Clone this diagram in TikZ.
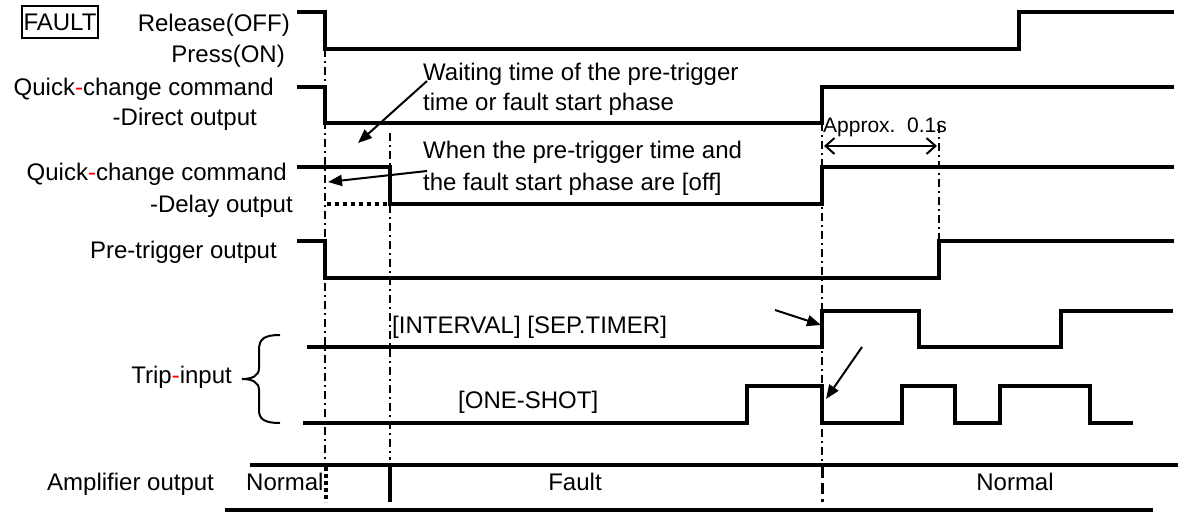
\documentclass[tikz,border=0pt]{standalone}
\usepackage{fontspec}
\setmainfont{Liberation Sans}
\usetikzlibrary{arrows.meta}
\begin{document}
\begin{tikzpicture}[x=1pt,y=-1pt,
  txt/.style={inner sep=0pt, font=\fontsize{24}{30}\selectfont},
  small/.style={inner sep=0pt, font=\fontsize{21}{26}\selectfont},
  wave/.style={line width=4pt, line join=miter},
  guide/.style={line width=1.6pt, dash pattern=on 8pt off 4pt on 2pt off 4pt},
  ptr/.style={line width=2pt, -{Triangle[length=14pt,width=11pt]}},
  hyph/.style={},
]
\useasboundingbox (0,0) rectangle (1181,512);

% ---- labels ----
\node[txt, draw, line width=1.5pt, minimum width=76pt, minimum height=32pt] (fault) at (60,22) {FAULT};
\node[txt, anchor=base east] (rel) at (290,31) {Release(OFF)};
\node[txt, anchor=base east] (press) at (285,62) {Press(ON)};
\node[txt, anchor=base east] (qc1) at (274,95) {Quick\textcolor{red}{-}change command};
\node[txt, anchor=base east] (dir) at (257,125) {-Direct output};
\node[txt, anchor=base east] (qc2) at (287,180) {Quick\textcolor{red}{-}change command};
\node[txt, anchor=base east] (del) at (293,212) {-Delay output};
\node[txt, anchor=base east] (pre) at (277,258) {Pre-trigger output};
\node[txt, anchor=base east] (trip) at (232,383) {Trip\textcolor{red}{-}input};
\node[txt, anchor=base west] (amp) at (47,490) {Amplifier output};
\node[txt, anchor=base west] (norm1) at (246,490) {Normal};
\node[txt, anchor=base] (flt) at (575,490) {Fault};
\node[txt, anchor=base] (norm2) at (1015,490) {Normal};
\node[txt, anchor=base west] (intv) at (392,333) {[INTERVAL] [SEP.TIMER]};
\node[txt, anchor=base west] (oneshot) at (458,408) {[ONE-SHOT]};
\node[small, anchor=base west] (approx) at (823,132) {Approx.\ \ 0.1s};
\node[txt, anchor=base west] (wait1) at (423,80) {Waiting time of the pre-trigger};
\node[txt, anchor=base west] (wait2) at (423,110) {time or fault start phase};
\node[txt, anchor=base west] (when1) at (423,158) {When the pre-trigger time and};
\node[txt, anchor=base west] (when2) at (423,190) {the fault start phase are [off]};

% ---- guides ----
\draw[guide] (325,49) -- (325,465);
\draw[guide] (390,133) -- (390,460);
\draw[guide] (822,123) -- (822,465);
\draw[guide] (939,125) -- (939,241);

% ---- waveforms ----
\draw[wave] (297,12) -- (325,12) -- (325,49) -- (1019,49) -- (1019,12) -- (1174,12);
\draw[wave] (297,87) -- (325,87) -- (325,123) -- (822,123) -- (822,87) -- (1174,87);
\draw[wave] (297,167) -- (390,167) -- (390,204) -- (822,204) -- (822,167) -- (1174,167);
\draw[line width=4pt, dash pattern=on 4pt off 4pt] (327,204) -- (390,204);
\draw[wave] (297,241) -- (325,241) -- (325,278) -- (939,278) -- (939,241) -- (1174,241);
\draw[wave] (307,347) -- (822,347) -- (822,311) -- (919,311) -- (919,347) -- (1061,347) -- (1061,311) -- (1173,311);
\draw[wave] (303,423) -- (747,423) -- (747,386) -- (822,386) -- (822,423) -- (902,423) -- (902,386) -- (955,386) -- (955,423) -- (1000,423) -- (1000,386) -- (1090,386) -- (1090,423) -- (1133,423);

% ---- amplifier row ----
\draw[line width=4pt] (250,465) -- (1178,465);
\draw[line width=4pt] (225,510) -- (1153,510);
\draw[line width=4pt, dash pattern=on 4pt off 3pt] (326,467) -- (326,502);
\draw[line width=4pt] (390,467) -- (390,502);
\draw[line width=3pt, dash pattern=on 11pt off 5pt] (822,467) -- (822,502);

% ---- brace ----
\draw[line width=2pt] (280,335) .. controls (264,335) and (259,339) .. (259,350) -- (259,368)
  .. controls (259,376) and (252,379) .. (242,379)
  .. controls (252,379) and (259,382) .. (259,390) -- (259,410)
  .. controls (259,419) and (264,423) .. (280,423);

% ---- pointers ----
\coordinate (p1s) at (427,81);  \coordinate (p1e) at (358,143);
\coordinate (p2s) at (427,171); \coordinate (p2e) at (328,182);
\coordinate (p3s) at (775,310); \coordinate (p3e) at (821,325);
\coordinate (p4s) at (862,347); \coordinate (p4e) at (826,399);
\draw[ptr] (p1s) -- (p1e);
\draw[ptr] (p2s) -- (p2e);
\draw[ptr] (p3s) -- (p3e);
\draw[ptr] (p4s) -- (p4e);

% ---- approx 0.1 s ----
\coordinate (d1) at (824,146); \coordinate (d2) at (937,146);
\draw[line width=2pt, {Straight Barb[length=9pt,width=16pt]}-{Straight Barb[length=9pt,width=16pt]}] (d1) -- (d2);
\end{tikzpicture}
\end{document}
